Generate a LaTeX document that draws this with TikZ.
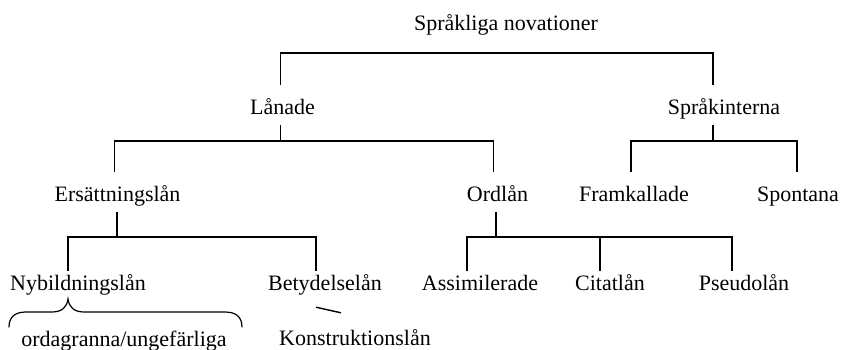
\documentclass[tikz,border=0pt]{standalone}
\usepackage{fontspec}
\setmainfont{Liberation Serif}
\tikzstyle{myterm} = [
    anchor=base,
    font=\fontsize{22pt}{26pt}\selectfont,
    inner xsep=0pt,
    inner ysep=6pt,
    text height=23pt,
    text depth=5pt
    ]
\tikzstyle{myleaf} = [
    myterm,
    text height=13pt
    ]
\tikzstyle{mybranch} = [
    line width=1.4pt
    ]
\tikzstyle{mybrace} = [
    line width=1.2pt,
    line cap=round
    ]

\begin{document}
\begin{tikzpicture}[x=1pt,y=-1pt]
\useasboundingbox (0,0) rectangle (841,349);

% terms
\node[myterm] (sprakliga) at (506,30) {Språkliga novationer};
\node[myterm] (lanade) at (282.5,114) {Lånade};
\node[myterm] (sprakint) at (724,114) {Språkinterna};
\node[myterm] (ersattning) at (117.5,201) {Ersättningslån};
\node[myterm] (ordlan) at (497.5,201) {Ordlån};
\node[myterm] (framkallade) at (634,201) {Framkallade};
\node[myterm] (spontana) at (798,201) {Spontana};
\node[myleaf] (nybildning) at (78,290) {Nybildningslån};
\node[myleaf] (betydelse) at (325,290) {Betydelselån};
\node[myleaf] (assim) at (480,290) {Assimilerade};
\node[myleaf] (citat) at (610,290) {Citatlån};
\node[myleaf] (pseudo) at (744,290) {Pseudolån};
\node[myterm] (ordagranna) at (124,346) {ordagranna/ungefärliga};
\node[myterm] (konstruktion) at (355,345) {Konstruktionslån};

% branches
\draw[mybranch] ([xshift=-2pt]lanade.north) -- ++(0,-32) -| ([xshift=-11pt]sprakint.north);
\draw[mybranch] ([xshift=-2pt]lanade.south) -- ++(0,16);
\draw[mybranch] ([xshift=-3pt]ersattning.north) -- ++(0,-31) -| ([xshift=-4pt]ordlan.north);
\draw[mybranch] ([xshift=-11pt]sprakint.south) -- ++(0,16);
\draw[mybranch] ([xshift=-3pt]framkallade.north) -- ++(0,-31) -| ([xshift=-1pt]spontana.north);
\draw[mybranch] ([xshift=-0.5pt]ersattning.south) -- ++(0,25);
\draw[mybranch] ([xshift=-10pt]nybildning.north) -- ++(0,-34) -| ([xshift=-9pt]betydelse.north);
\draw[mybranch] ([xshift=-1.5pt]ordlan.south) -- ++(0,25);
\draw[mybranch] ([xshift=-13pt]assim.north) -- ++(0,-34) -| ([xshift=-12pt]pseudo.north);
\draw[mybranch] ([xshift=-10pt]citat.north) -- ++(0,-34);
\draw[mybranch] ([xshift=-9pt,yshift=-6pt]betydelse.south) -- ([xshift=-14pt,yshift=3pt]konstruktion.north);

% brace
\coordinate (brace west) at (9,327);
\coordinate (brace tip) at (68,299);
\coordinate (brace east) at (242,327);
\draw[mybrace] (brace west) .. controls (9,317) and (15,312) .. (26,312)
    -- (52,312) .. controls (62,312) and (67,307) .. (brace tip)
    .. controls (69,307) and (74,312) .. (84,312)
    -- (225,312) .. controls (236,312) and (242,317) .. (brace east);
\end{tikzpicture}
\end{document}
